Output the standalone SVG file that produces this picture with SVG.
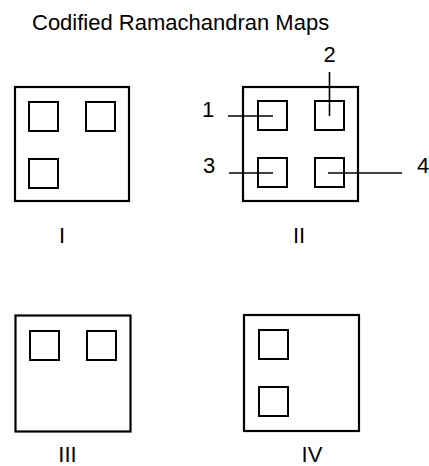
<svg xmlns="http://www.w3.org/2000/svg" width="429" height="466" viewBox="0 0 429 466">
<style>
.box{fill:none;stroke:#000;stroke-width:2.2}
.sq{fill:none;stroke:#000;stroke-width:2}
.ln{stroke:#000;stroke-width:1.6}
text{font-family:"Liberation Sans",Arial,sans-serif;font-size:22px;fill:#000}
.c{text-anchor:middle}
</style>
<rect width="429" height="466" fill="#fff"/>
<text id="title" x="32" y="29.5">Codified Ramachandran Maps</text>
<g id="map-I">
<rect class="box" x="15" y="87" width="114" height="114"/>
<rect class="sq" x="29" y="102" width="29" height="29"/>
<rect class="sq" x="86" y="102" width="29" height="29"/>
<rect class="sq" x="29" y="159" width="29" height="29"/>
<text class="c" x="62" y="243">I</text>
</g>
<g id="map-II">
<rect class="box" x="243" y="87" width="115" height="114"/>
<rect class="sq" x="258" y="101" width="29" height="29"/>
<rect class="sq" x="315" y="101" width="29" height="29"/>
<rect class="sq" x="258" y="158" width="29" height="29"/>
<rect class="sq" x="315" y="158" width="29" height="29"/>
<text class="c" x="299" y="243">II</text>
</g>
<g id="map-III">
<rect class="box" x="15.5" y="315.5" width="115" height="116"/>
<rect class="sq" x="30" y="331" width="29" height="29"/>
<rect class="sq" x="87" y="331" width="29" height="29"/>
<text class="c" x="67.5" y="461.5">III</text>
</g>
<g id="map-IV">
<rect class="box" x="244" y="315" width="115" height="116"/>
<rect class="sq" x="259" y="330" width="29" height="29"/>
<rect class="sq" x="259" y="387" width="29" height="29"/>
<text class="c" x="312" y="461.5">IV</text>
</g>
<g id="callouts">
<line class="ln" x1="228" y1="116" x2="273" y2="116"/>
<line class="ln" x1="329.5" y1="72" x2="329.5" y2="116"/>
<line class="ln" x1="229" y1="173" x2="273" y2="173"/>
<line class="ln" x1="328" y1="173" x2="402" y2="173"/>
<text class="c" x="208" y="117">1</text>
<text class="c" x="329.5" y="62">2</text>
<text class="c" x="209" y="173">3</text>
<text class="c" x="423" y="173">4</text>
</g>
</svg>
